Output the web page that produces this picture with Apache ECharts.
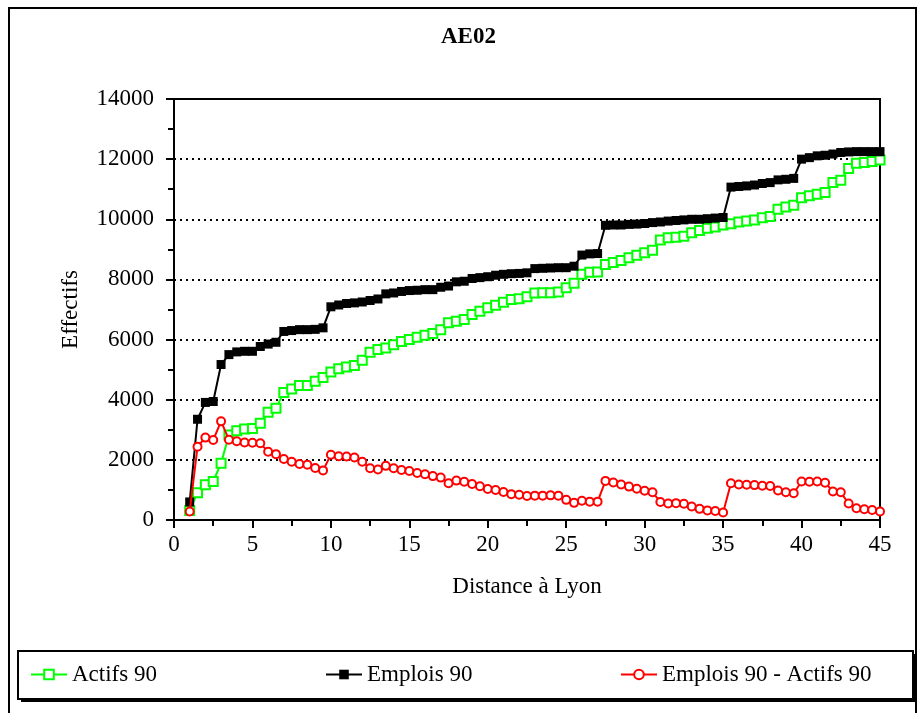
<!DOCTYPE html>
<html>
<head>
<meta charset="utf-8">
<script src="https://cdn.jsdelivr.net/npm/echarts@6/dist/echarts.min.js"></script>
<style>
  html, body { margin: 0; padding: 0; background: #fff; }
  #chart { width: 918px; height: 713px; }
</style>
</head>
<body>
<div id="chart"></div>
<script>
// distance to Lyon (km), one point per commune step
const distances = [
  1, 1.5, 2, 2.5, 3, 3.5, 4, 4.5, 5, 5.5, 6, 6.5, 7, 7.5, 8, 8.5, 9, 9.5, 10, 10.5,
  11, 11.5, 12, 12.5, 13, 13.5, 14, 14.5, 15, 15.5, 16, 16.5, 17, 17.5, 18, 18.5, 19, 19.5, 20, 20.5,
  21, 21.5, 22, 22.5, 23, 23.5, 24, 24.5, 25, 25.5, 26, 26.5, 27, 27.5, 28, 28.5, 29, 29.5, 30, 30.5,
  31, 31.5, 32, 32.5, 33, 33.5, 34, 34.5, 35, 35.5, 36, 36.5, 37, 37.5, 38, 38.5, 39, 39.5, 40, 40.5,
  41, 41.5, 42, 42.5, 43, 43.5, 44, 44.5, 45
];

const actifs90 = [
  320, 910, 1170, 1280, 1890, 2830, 2970, 3030, 3040, 3220, 3580, 3720, 4240, 4360, 4470, 4470, 4610, 4740, 4920, 5030,
  5090, 5140, 5310, 5580, 5670, 5720, 5830, 5940, 6000, 6080, 6140, 6200, 6330, 6560, 6610, 6670, 6830, 6940, 7060, 7140,
  7240, 7330, 7360, 7420, 7550, 7560, 7560, 7580, 7720, 7870, 8170, 8240, 8250, 8500, 8560, 8630, 8720, 8800, 8890, 8970,
  9310, 9390, 9400, 9440, 9550, 9630, 9700, 9740, 9810, 9850, 9910, 9940, 9980, 10050, 10090, 10330, 10410, 10470, 10720, 10780,
  10830, 10890, 11220, 11300, 11690, 11860, 11890, 11920, 11970
];

const emplois90 = [
  600, 3350, 3910, 3940, 5170, 5500, 5590, 5610, 5610, 5770, 5850, 5910, 6270, 6300, 6330, 6330, 6340, 6390, 7090, 7150,
  7200, 7220, 7250, 7300, 7350, 7520, 7550, 7600, 7630, 7640, 7660, 7660, 7740, 7780, 7920, 7940, 8030, 8060, 8090, 8140,
  8170, 8190, 8200, 8220, 8360, 8370, 8380, 8390, 8390, 8440, 8810, 8850, 8860, 9800, 9810, 9810, 9830, 9840, 9860, 9890,
  9910, 9940, 9960, 9980, 10000, 10000, 10020, 10040, 10060, 11070, 11090, 11110, 11140, 11190, 11220, 11310, 11330, 11360, 12000, 12050,
  12110, 12130, 12170, 12220, 12240, 12250, 12250, 12250, 12250
];

const ecart90 = [
  280, 2440, 2740, 2660, 3280, 2670, 2620, 2580, 2570, 2550, 2270, 2190, 2030, 1940, 1860, 1840, 1730, 1650, 2170, 2120,
  2110, 2080, 1940, 1720, 1680, 1800, 1720, 1660, 1630, 1560, 1520, 1460, 1410, 1220, 1310, 1270, 1200, 1120, 1030, 1000,
  930, 860, 840, 800, 810, 810, 820, 810, 670, 570, 640, 610, 610, 1300, 1250, 1180, 1110, 1040, 970, 920,
  600, 550, 560, 540, 450, 370, 320, 300, 250, 1220, 1180, 1170, 1160, 1140, 1130, 980, 920, 890, 1280, 1270,
  1280, 1240, 950, 920, 550, 390, 360, 330, 280
];

const seriesNames = ['Actifs 90', 'Emplois 90', 'Emplois 90 - Actifs 90'];

const FONT = 'Liberation Serif';
const FS = 23;

function pairs(ys) {
  return distances.map((d, i) => [d, ys[i]]);
}

const chart = echarts.init(document.getElementById('chart'));

const legendBase = {
  itemWidth: 36,
  itemHeight: 12,
  itemGap: 6,
  textStyle: { fontFamily: FONT, fontSize: FS, color: '#000' },
  top: 663,
  padding: 0,
};

chart.setOption({
  animation: false,
  backgroundColor: '#fff',
  title: {
    text: 'AE02',
    left: 436,
    top: 21,
    textStyle: { fontFamily: FONT, fontSize: FS, fontWeight: 'bold', color: '#000' },
  },
  graphic: [
    { type: 'rect', shape: { x: 9, y: 8, width: 907, height: 720 }, style: { fill: 'none', stroke: '#000', lineWidth: 2 } },
    { type: 'rect', shape: { x: 21, y: 654, width: 895, height: 48 }, style: { fill: '#000' } },
    { type: 'rect', shape: { x: 18, y: 651, width: 895, height: 48 }, style: { fill: '#fff', stroke: '#000', lineWidth: 2 } },
  ],
  legend: [
    Object.assign({}, legendBase, { left: 30, data: [seriesNames[0]] }),
    Object.assign({}, legendBase, { left: 325, data: [seriesNames[1]] }),
    Object.assign({}, legendBase, { left: 620, data: [seriesNames[2]] }),
  ],
  grid: {
    left: 174,
    top: 99,
    width: 706,
    height: 421,
    show: true,
    borderColor: '#000',
    borderWidth: 2,
  },
  xAxis: {
    type: 'value',
    min: 0,
    max: 45,
    interval: 5,
    name: 'Distance à Lyon',
    nameLocation: 'middle',
    nameGap: 55,
    nameTextStyle: { fontFamily: FONT, fontSize: FS, color: '#000' },
    axisLine: { lineStyle: { color: '#000', width: 2 } },
    axisTick: { length: 8, lineStyle: { color: '#000', width: 2 } },
    minorTick: { show: true, splitNumber: 2, length: 6, lineStyle: { color: '#000', width: 2 } },
    axisLabel: { fontFamily: FONT, fontSize: FS, color: '#000', margin: 13 },
    splitLine: { show: false },
  },
  yAxis: {
    type: 'value',
    min: 0,
    max: 14000,
    interval: 2000,
    name: 'Effectifs',
    nameLocation: 'middle',
    nameGap: 92,
    nameTextStyle: { fontFamily: FONT, fontSize: FS, color: '#000' },
    axisLine: { show: true, lineStyle: { color: '#000', width: 2 } },
    axisTick: { show: true, length: 8, lineStyle: { color: '#000', width: 2 } },
    minorTick: { show: true, splitNumber: 2, length: 6, lineStyle: { color: '#000', width: 2 } },
    axisLabel: { fontFamily: FONT, fontSize: FS, color: '#000', margin: 20, formatter: v => String(v) },
    splitLine: { show: true, lineStyle: { color: '#000', width: 2, type: [2, 4] } },
  },
  series: [
    {
      name: seriesNames[0],
      type: 'line',
      data: pairs(actifs90),
      symbol: 'emptyRect',
      symbolSize: 9,
      lineStyle: { color: '#00ff00', width: 2 },
      itemStyle: { color: '#00ff00', borderColor: '#00ff00', borderWidth: 1 },
      z: 3,
    },
    {
      name: seriesNames[1],
      type: 'line',
      data: pairs(emplois90),
      symbol: 'rect',
      symbolSize: 9,
      lineStyle: { color: '#000', width: 2 },
      itemStyle: { color: '#000' },
      z: 4,
    },
    {
      name: seriesNames[2],
      type: 'line',
      data: pairs(ecart90),
      symbol: 'emptyCircle',
      symbolSize: 8,
      lineStyle: { color: '#ff0000', width: 2 },
      itemStyle: { color: '#ff0000', borderColor: '#ff0000', borderWidth: 1 },
      z: 5,
    },
  ],
});
</script>
</body>
</html>
